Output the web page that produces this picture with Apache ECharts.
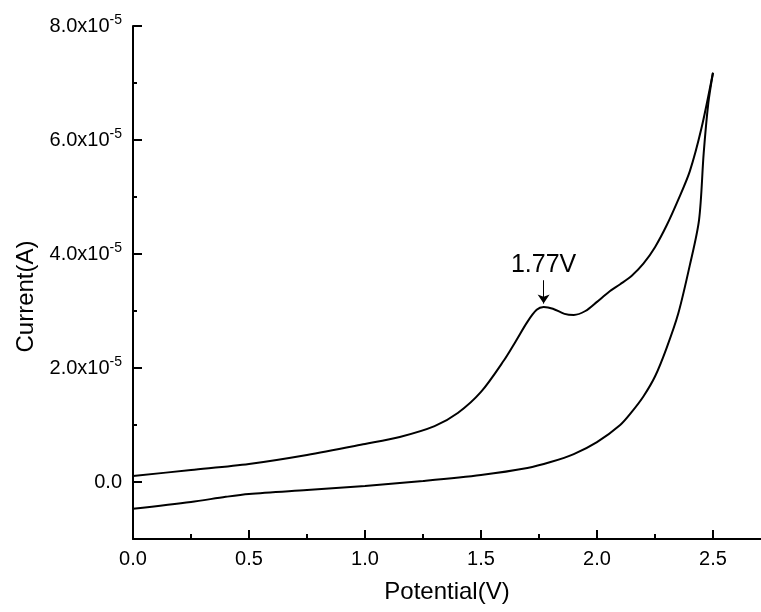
<!DOCTYPE html>
<html>
<head>
<meta charset="utf-8">
<script src="https://cdn.jsdelivr.net/npm/echarts@6/dist/echarts.min.js"></script>
<style>
html,body{margin:0;padding:0;background:#fff;}
#chart{width:761px;height:612px;}
</style>
</head>
<body>
<div id="chart"></div>
<script>
// Forward scan (upper branch), potential in V and current in A
var forwardV = [0, 0.25, 0.5, 0.75, 1.0, 1.15, 1.3, 1.4, 1.5, 1.6, 1.65, 1.7, 1.74, 1.77, 1.81, 1.86, 1.9, 1.95, 2.0, 2.05, 2.1, 2.15, 2.2, 2.25, 2.3, 2.35, 2.4, 2.45, 2.5];
var forwardI = [1.05e-6, 2.1e-6, 3.16e-6, 4.74e-6, 6.67e-6, 7.9e-6, 9.8e-6, 1.21e-5, 1.58e-5, 2.14e-5, 2.47e-5, 2.81e-5, 3.02e-5, 3.07e-5, 3.04e-5, 2.95e-5, 2.93e-5, 3.0e-5, 3.16e-5, 3.33e-5, 3.47e-5, 3.62e-5, 3.83e-5, 4.12e-5, 4.5e-5, 4.95e-5, 5.45e-5, 6.2e-5, 7.18e-5];
// Reverse scan (lower branch)
var reverseV = [2.5, 2.48, 2.46, 2.44, 2.4, 2.35, 2.3, 2.25, 2.2, 2.15, 2.1, 2.0, 1.9, 1.8, 1.7, 1.5, 1.25, 1.0, 0.75, 0.5, 0.4, 0.25, 0];
var reverseI = [7.18e-5, 6.65e-5, 5.77e-5, 4.6e-5, 3.8e-5, 2.95e-5, 2.35e-5, 1.85e-5, 1.5e-5, 1.23e-5, 1.0e-5, 7.0e-6, 4.9e-6, 3.5e-6, 2.46e-6, 1.23e-6, 1.8e-7, -7e-7, -1.4e-6, -2.1e-6, -2.6e-6, -3.5e-6, -4.7e-6];
// Axis ticks
var xMajorTicks = [0, 0.5, 1.0, 1.5, 2.0, 2.5];
var xMinorTicks = [0.25, 0.75, 1.25, 1.75, 2.25];
var yMajorTicks = [0, 2e-5, 4e-5, 6e-5, 8e-5];
var yMinorTicks = [1e-5, 3e-5, 5e-5, 7e-5];
var peakV = 1.77;
var peakLabel = '1.77V';

var FONT = 'Liberation Sans, Arial, sans-serif';
function pairs(xs, ys){ return xs.map(function(x,i){ return [x, ys[i]]; }); }
function yFmt(v){
  if (Math.abs(v) < 1e-12) return '{a|0.0}';
  var m = v / 1e-5;
  return '{a|' + m.toFixed(1) + 'x10}{b|-5}';
}

var chart = echarts.init(document.getElementById('chart'), null, {renderer:'canvas'});
var axisLine = {show:true, onZero:false, lineStyle:{color:'#000', width:2}};
var option = {
  backgroundColor:'#fff',
  animation:false,
  grid:{left:133, top:26, width:628, height:513, containLabel:false},
  xAxis:[{
    type:'value', min:0, max:2.707, position:'bottom',
    axisLine:axisLine,
    axisTick:{show:true, inside:true, length:9, customValues:xMajorTicks, lineStyle:{color:'#000', width:2}},
    axisLabel:{show:true, customValues:xMajorTicks, margin:10, fontSize:20, color:'#000', fontFamily:FONT,
      formatter:function(v){ return v.toFixed(1); }},
    splitLine:{show:false},
    name:'Potential(V)', nameLocation:'middle', nameGap:41,
    nameTextStyle:{fontSize:24, color:'#000', fontFamily:FONT}
  },{
    type:'value', min:0, max:2.707, position:'bottom', offset:0,
    axisLine:{show:false, onZero:false},
    axisTick:{show:true, inside:true, length:5, customValues:xMinorTicks, lineStyle:{color:'#000', width:2}},
    axisLabel:{show:false}, splitLine:{show:false}
  }],
  yAxis:[{
    type:'value', min:-1e-5, max:8e-5, position:'left',
    axisLine:axisLine,
    axisTick:{show:true, inside:true, length:9, customValues:yMajorTicks, lineStyle:{color:'#000', width:2}},
    axisLabel:{show:true, customValues:yMajorTicks, margin:11, color:'#000', formatter:yFmt,
      rich:{
        a:{fontSize:20, fontFamily:FONT, color:'#000', lineHeight:25},
        b:{fontSize:14, fontFamily:FONT, color:'#000', verticalAlign:'top', lineHeight:14}
      }},
    splitLine:{show:false},
    name:'Current(A)', nameLocation:'middle', nameGap:95,
    nameTextStyle:{fontSize:24, color:'#000', fontFamily:FONT, padding:[0,28,0,0]}
  },{
    type:'value', min:-1e-5, max:8e-5, position:'left', offset:0,
    axisLine:{show:false, onZero:false},
    axisTick:{show:true, inside:true, length:4, customValues:yMinorTicks, lineStyle:{color:'#000', width:2}},
    axisLabel:{show:false}, splitLine:{show:false}
  }],
  series:[{
    type:'line', xAxisIndex:0, yAxisIndex:0,
    data:pairs(forwardV, forwardI),
    showSymbol:false, smooth:0.3,
    lineStyle:{color:'#000', width:2},
    markLine:{
      silent:true, symbol:['none','arrow'], symbolSize:9, precision:4,
      lineStyle:{color:'#000', width:1, type:'solid'},
      label:{show:true, position:'start', formatter:peakLabel, fontSize:25, color:'#000', fontFamily:FONT, distance:3},
      data:[[{coord:[peakV, 3.54e-5]}, {coord:[peakV, 3.13e-5]}]]
    }
  },{
    type:'line', xAxisIndex:0, yAxisIndex:0,
    data:pairs(reverseV, reverseI),
    showSymbol:false, smooth:0.3,
    lineStyle:{color:'#000', width:2}
  }]
};
chart.setOption(option);
</script>
</body>
</html>
